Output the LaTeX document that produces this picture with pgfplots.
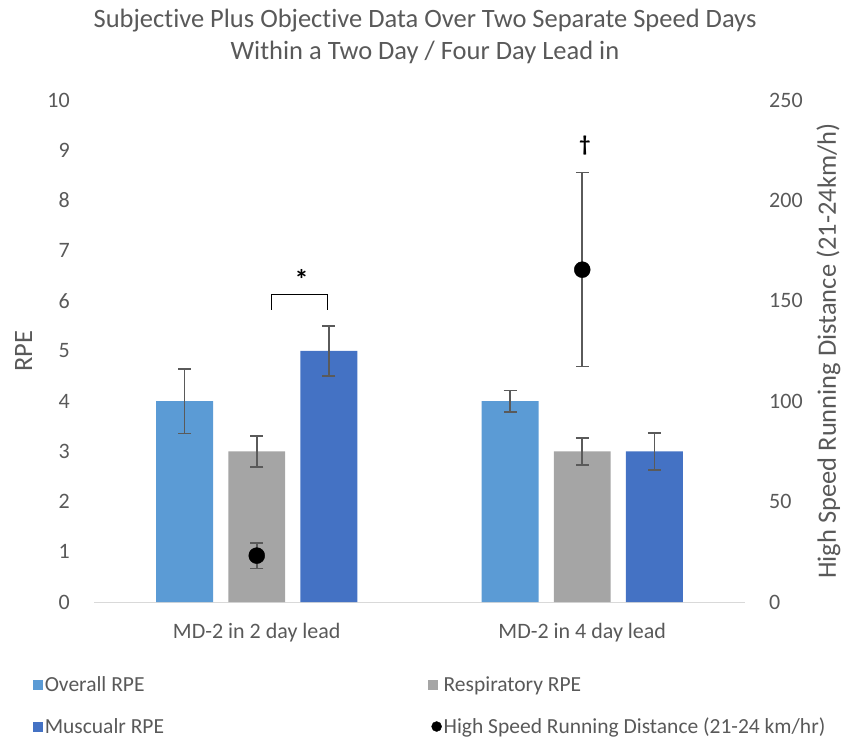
\documentclass[border=0pt]{standalone}
\usepackage{pgfplots}
\pgfplotsset{compat=1.18}
\usepackage{fontspec}
\setmainfont{Carlito}[Ligatures=NoCommon]
\definecolor{txt}{HTML}{595959}
\definecolor{cOver}{HTML}{5B9BD5}
\definecolor{cResp}{HTML}{A5A5A5}
\definecolor{cMusc}{HTML}{4472C4}
\definecolor{cErr}{HTML}{5A5A5A}
\definecolor{cAx}{HTML}{D9D9D9}
\newcommand{\fs}{\fontsize{22}{26}\selectfont}
\newcommand{\fl}{\fontsize{26.5}{30}\selectfont}
\pgfplotsset{
  errst/.style={error bars/.cd, y dir=both, y explicit,
    error bar style={line width=1.6pt, color=cErr},
    error mark options={rotate=90, mark size=6.5pt, line width=1.6pt, color=cErr}},
  barlegend/.style={legend image code/.code={\fill[##1] (0pt,-5pt) rectangle (10pt,5pt);}},
}
\begin{document}
\begin{tikzpicture}[x=1pt,y=1pt]
\path[use as bounding box] (0,0) rectangle (845,741);
\node[align=center, text=txt, font=\fontsize{26.5}{32}\selectfont] at (425,705) {Subjective Plus Objective Data Over Two Separate Speed Days\\Within a Two Day / Four Day Lead in};
\begin{axis}[
  at={(94pt,139pt)}, anchor=south west, scale only axis,
  width=651pt, height=502pt,
  xmin=-0.5, xmax=1.5, ymin=0, ymax=10,
  ytick={0,1,...,10}, xtick={0,1},
  xticklabels={MD-2 in 2 day lead, MD-2 in 4 day lead},
  axis x line*=bottom, axis y line*=left,
  x axis line style={draw=cAx, line width=1pt, -},
  y axis line style={draw=none},
  major tick length=0pt, tick style={draw=none},
  /pgf/number format/assume math mode=true,
  ticklabel style={font=\fs, text=txt},
  yticklabel style={inner sep=0pt, xshift=-24pt},
  xticklabel style={inner sep=0pt, yshift=-21pt},
  ylabel={RPE},
  ylabel style={font=\fl, text=txt, at={(axis description cs:-0.108,0.5)}, anchor=center},
  clip=false,
  legend columns=2,
  legend cell align=left,
  legend style={draw=none, fill=none, font=\fontsize{21.5}{25}\selectfont, text=txt,
    at={(axis description cs:-0.099,-0.14)}, anchor=north west,
    row sep=21pt,
    /tikz/every even column/.append style={column sep=262pt}},
]
\addplot[ybar, bar width=0.175, bar shift=0pt, fill=cOver, draw=none, barlegend, errst]
  coordinates {(-0.2215,4) +- (0,0.64) (0.7785,4) +- (0,0.215)};
\addlegendentry{Overall RPE}
\addplot[ybar, bar width=0.175, bar shift=0pt, fill=cResp, draw=none, barlegend, errst]
  coordinates {(0,3) +- (0,0.31) (1,3) +- (0,0.27)};
\addlegendentry{Respiratory RPE}
\addplot[ybar, bar width=0.175, bar shift=0pt, fill=cMusc, draw=none, barlegend, errst]
  coordinates {(0.2215,5) +- (0,0.5) (1.2215,3) +- (0,0.37)};
\addlegendentry{Muscualr RPE}
\addlegendimage{only marks, mark=*, mark size=5pt, black}
\addlegendentry{High Speed Running Distance (21-24 km/hr)}
\draw[black, line width=1.2pt] (axis cs:0.046,5.82) -- (axis cs:0.046,6.12) -- (axis cs:0.218,6.12) -- (axis cs:0.218,5.82);
\node[font=\fontsize{28}{30}\selectfont\bfseries] at (axis cs:0.138,6.42) {*};
\node[font=\fontsize{22}{24}\selectfont\bfseries] at (axis cs:1.008,9.1) {†};
\end{axis}
\begin{axis}[
  at={(94pt,139pt)}, anchor=south west, scale only axis,
  width=651pt, height=502pt,
  xmin=-0.5, xmax=1.5, ymin=0, ymax=250,
  ytick={0,50,...,250},
  axis x line=none, axis y line*=right,
  y axis line style={draw=none},
  major tick length=0pt, tick style={draw=none},
  /pgf/number format/assume math mode=true,
  ticklabel style={font=\fs, text=txt},
  yticklabel style={inner sep=0pt, xshift=24pt},
  ylabel={High Speed Running Distance (21-24km/h)},
  ylabel style={font=\fl, text=txt, at={(axis description cs:1.128,0.5)}, anchor=center, rotate=0},
  clip=false,
]
\addplot[only marks, mark=*, mark size=8pt, black, errst]
  coordinates {(0,23.1) +- (0,6.4) (1,165.5) +- (0,48.3)};
\end{axis}
\end{tikzpicture}
\end{document}
